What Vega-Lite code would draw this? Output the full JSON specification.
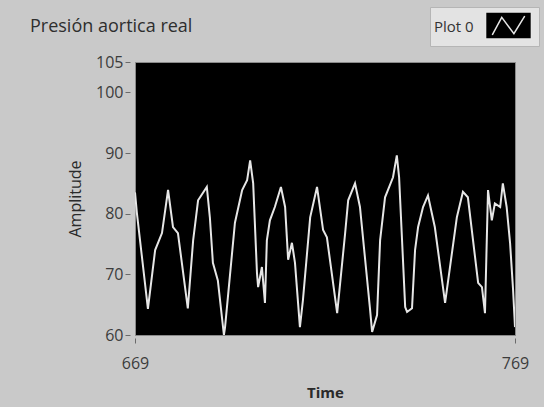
{
  "$schema": "https://vega.github.io/schema/vega-lite/v6.json",
  "autosize": "none",
  "width": 380,
  "height": 273,
  "padding": {"left": 135, "top": 62, "right": 29, "bottom": 72},
  "background": "#c9c9c9",
  "title": {
    "text": "Presión aortica real",
    "anchor": "start",
    "frame": "group",
    "dx": -105,
    "offset": 0,
    "dy": 29,
    "font": "Open Sans",
    "fontSize": 18,
    "fontWeight": "normal",
    "color": "#2e2e2e"
  },
  "config": {
    "view": {"fill": "#000000", "stroke": "#8a8a8a", "strokeWidth": 1},
    "axis": {
      "labelFont": "Open Sans",
      "titleFont": "Open Sans",
      "labelColor": "#3c3c3c",
      "titleColor": "#2a2a2a",
      "tickColor": "#6a6a6a",
      "domain": false,
      "grid": false
    }
  },
  "data": {
    "values": [
      {"time": 669.0, "amp": 83.5},
      {"time": 669.5, "amp": 80.1},
      {"time": 672.4, "amp": 64.3},
      {"time": 674.3, "amp": 74.0},
      {"time": 676.1, "amp": 76.8},
      {"time": 677.7, "amp": 83.9},
      {"time": 679.0, "amp": 77.8},
      {"time": 680.3, "amp": 76.8},
      {"time": 682.9, "amp": 64.4},
      {"time": 684.3, "amp": 75.6},
      {"time": 685.6, "amp": 82.2},
      {"time": 687.9, "amp": 84.4},
      {"time": 688.7, "amp": 79.4},
      {"time": 689.5, "amp": 71.9},
      {"time": 690.8, "amp": 69.0},
      {"time": 692.4, "amp": 60.0},
      {"time": 692.7, "amp": 61.3},
      {"time": 695.3, "amp": 78.5},
      {"time": 697.2, "amp": 83.9},
      {"time": 698.5, "amp": 85.5},
      {"time": 699.3, "amp": 88.8},
      {"time": 700.1, "amp": 85.0},
      {"time": 701.1, "amp": 70.2},
      {"time": 701.4, "amp": 67.9},
      {"time": 702.4, "amp": 71.2},
      {"time": 703.2, "amp": 65.3},
      {"time": 703.7, "amp": 75.6},
      {"time": 704.5, "amp": 78.9},
      {"time": 705.8, "amp": 81.1},
      {"time": 707.4, "amp": 84.4},
      {"time": 708.5, "amp": 81.1},
      {"time": 709.3, "amp": 72.4},
      {"time": 710.3, "amp": 75.2},
      {"time": 711.1, "amp": 71.9},
      {"time": 712.4, "amp": 61.3},
      {"time": 713.2, "amp": 65.8},
      {"time": 715.1, "amp": 79.4},
      {"time": 716.9, "amp": 84.4},
      {"time": 718.5, "amp": 77.3},
      {"time": 719.5, "amp": 76.1},
      {"time": 722.2, "amp": 63.6},
      {"time": 724.3, "amp": 76.8},
      {"time": 725.1, "amp": 82.2},
      {"time": 726.9, "amp": 85.0},
      {"time": 728.2, "amp": 81.1},
      {"time": 730.8, "amp": 64.6},
      {"time": 731.4, "amp": 60.5},
      {"time": 732.7, "amp": 63.3},
      {"time": 733.5, "amp": 75.6},
      {"time": 734.8, "amp": 82.7},
      {"time": 736.9, "amp": 86.0},
      {"time": 737.9, "amp": 89.6},
      {"time": 738.5, "amp": 86.0},
      {"time": 740.1, "amp": 64.6},
      {"time": 740.6, "amp": 63.8},
      {"time": 741.9, "amp": 64.4},
      {"time": 742.7, "amp": 74.0},
      {"time": 743.5, "amp": 77.8},
      {"time": 744.8, "amp": 81.1},
      {"time": 746.1, "amp": 83.0},
      {"time": 747.9, "amp": 77.8},
      {"time": 750.6, "amp": 65.3},
      {"time": 752.4, "amp": 73.5},
      {"time": 753.7, "amp": 79.4},
      {"time": 755.3, "amp": 83.6},
      {"time": 756.6, "amp": 82.7},
      {"time": 759.3, "amp": 68.6},
      {"time": 760.3, "amp": 67.9},
      {"time": 761.1, "amp": 63.6},
      {"time": 761.9, "amp": 83.9},
      {"time": 762.9, "amp": 78.9},
      {"time": 763.7, "amp": 81.7},
      {"time": 765.1, "amp": 81.1},
      {"time": 765.8, "amp": 85.0},
      {"time": 766.8, "amp": 81.1},
      {"time": 767.7, "amp": 75.2},
      {"time": 768.5, "amp": 67.4},
      {"time": 769.0, "amp": 61.3}
    ]
  },
  "mark": {"type": "line", "strokeWidth": 2, "clip": true},
  "encoding": {
    "x": {
      "field": "time",
      "type": "quantitative",
      "scale": {"domain": [669, 769], "nice": false, "zero": false},
      "axis": {
        "title": "Time",
        "values": [669, 769],
        "format": "d",
        "offset": 3,
        "tickSize": 5,
        "labelPadding": 12,
        "labelFlush": false,
        "labelFontSize": 16,
        "titleFontSize": 15,
        "titleFontWeight": "bold",
        "titlePadding": 14
      }
    },
    "y": {
      "field": "amp",
      "type": "quantitative",
      "scale": {"domain": [60, 105], "nice": false, "zero": false},
      "axis": {
        "title": "Amplitude",
        "values": [60, 70, 80, 90, 100, 105],
        "offset": 5,
        "tickSize": 5,
        "labelPadding": 2,
        "labelFontSize": 16,
        "titleFontSize": 16,
        "titleFontWeight": "normal",
        "titlePadding": 12
      }
    },
    "color": {
      "datum": "Plot 0",
      "scale": {"range": ["#e6e6e6"]},
      "legend": {
        "orient": "none",
        "legendX": 295,
        "legendY": -55,
        "title": "Plot 0",
        "titleOrient": "left",
        "titleFont": "Open Sans",
        "titleFontSize": 15,
        "titleFontWeight": "normal",
        "titleColor": "#333333",
        "titlePadding": 20,
        "labelExpr": "''",
        "fillColor": "#e3e3e3",
        "strokeColor": "#b5b5b5",
        "padding": 4,
        "symbolType": "M-1.7,-1H1.7V1H-1.7Z M-1.2,0.7L-0.5,-0.6L0.4,0.6L1.2,-0.7L0.4,0.6L-0.5,-0.6Z",
        "symbolSize": 729,
        "symbolFillColor": "#000000",
        "symbolStrokeColor": "#cfcfcf",
        "symbolStrokeWidth": 1.5
      }
    }
  }
}
